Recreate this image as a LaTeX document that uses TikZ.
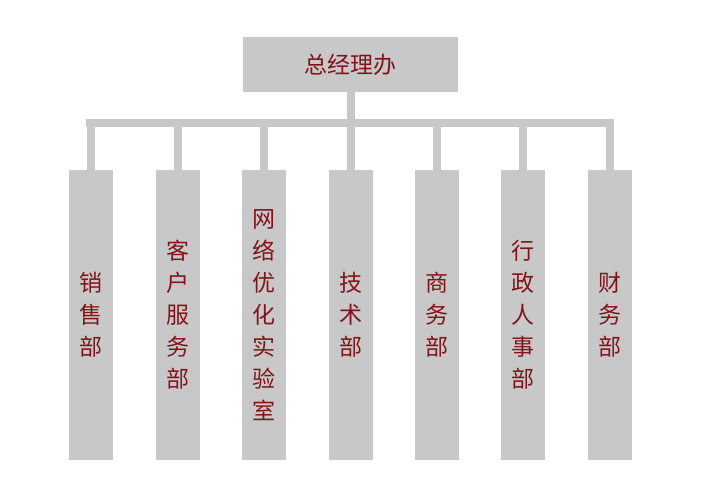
\documentclass[tikz,border=0pt]{standalone}
\usepackage{fontspec}
\newfontfamily\cjk{Noto Sans CJK SC}
\definecolor{boxgray}{RGB}{200,200,200}
\definecolor{txtred}{RGB}{130,20,25}
\begin{document}
\begin{tikzpicture}[x=1pt,y=-1pt,
  box/.style={fill=boxgray,draw=none,inner sep=0pt},
  lbl/.style={text=txtred,font=\cjk\fontsize{23}{32}\selectfont,align=center,inner sep=0pt},
  conn/.style={draw=boxgray,line width=8pt}]
\useasboundingbox (0,0) rectangle (717,500);
\fill[white] (0,0) rectangle (717,500);
\node[box,minimum width=215pt,minimum height=55pt] (top) at (350.5,64.5) {};
\node[lbl] (toptxt) at (top) {总经理办};
\coordinate (bar) at (350.5,123);
\coordinate (barL) at (86,123);
\coordinate (barR) at (614,123);
\draw[conn] (top.south) -- (bar);
\draw[conn] (barL) -- (barR);
\foreach \i/\x/\t in {1/91/{销\\售\\部},2/178/{客\\户\\服\\务\\部},3/264/{网\\络\\优\\化\\实\\验\\室},4/351/{技\\术\\部},5/437/{商\\务\\部},6/523/{行\\政\\人\\事\\部},7/610/{财\\务\\部}}{
  \coordinate (d\i) at (\x,123);
  \node[box,minimum width=44pt,minimum height=290pt] (c\i) at (\x,315) {};
  \draw[conn] (d\i) -- (c\i.north);
  \node[lbl] (t\i) at (c\i) {\t};
}
\end{tikzpicture}
\end{document}
